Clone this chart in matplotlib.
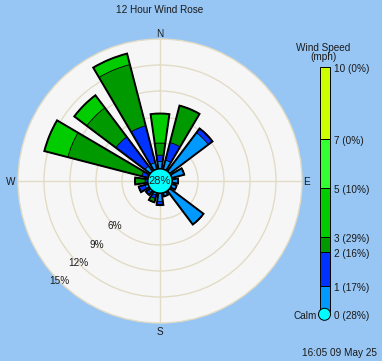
import numpy as np
import matplotlib
matplotlib.use("Agg")
import matplotlib.pyplot as plt
from matplotlib.patches import Circle, Rectangle

plt.rcParams['font.family'] = ['Liberation Sans', 'DejaVu Sans']

# ---------------- data ----------------
directions = ["N", "NNE", "NE", "ENE", "E", "ESE", "SE", "SSE",
              "S", "SSW", "SW", "WSW", "W", "WNW", "NW", "NNW"]
# percent of observations per speed bin (mph)
speed_0_1 = [0.85, 1.1, 5.6, 1.5, 0.7, 0.6, 4.9, 0.45, 1.0, 0.3, 0.3, 0.4, 0.1, 0.2, 0.8, 0.8]
speed_1_2 = [0.75, 2.1, 0.6, 0.0, 0.0, 0.0, 0.0, 0.0, 0.4, 0.4, 0.35, 0.75, 0.25, 0.6, 4.2, 4.4]
speed_2_3 = [1.4, 4.4, 0.0, 0.0, 0.0, 0.0, 0.0, 0.0, 0.0, 0.45, 0.0, 0.0, 1.15, 8.8, 4.2, 7.3]
speed_3_5 = [3.4, 0.0, 0.0, 0.0, 0.0, 0.0, 0.0, 0.0, 0.0, 0.0, 0.0, 0.0, 0.0, 2.8, 1.8, 1.3]
bins = [speed_0_1, speed_1_2, speed_2_3, speed_3_5]
bin_colors = ["#0099ff", "#0033ff", "#009900", "#00cc00"]

calm_pct = 28
ring_ticks = [3, 6, 9, 12, 15]
ring_labels = ["6%", "9%", "12%", "15%"]
ring_label_values = [6, 9, 12, 15]

legend_speeds = ["10", "7", "5", "3", "2", "1", "0"]
legend_pcts = ["0%", "0%", "10%", "29%", "16%", "17%", "28%"]
legend_colors = ["#ccff00", "#33ff33", "#00cc00", "#009900", "#0033ff", "#0099ff"]

title = "12 Hour Wind Rose"
timestamp = "16:05 09 May 25"

# ---------------- layout ----------------
W, H = 382, 361
BG = "#97c6f4"
TXT = "#1a1a1a"
GRID = "#e2dcc6"
FS = 7.2
cx, cy, R = 160, 181, 142
calm_px = 12
offset = calm_px / ((R - calm_px) / 15.0)   # radial data offset for calm circle

fig = plt.figure(figsize=(W / 100, H / 100), dpi=100)
fig.patch.set_facecolor(BG)

ax = fig.add_axes([(cx - R) / W, (H - cy - R) / H, 2 * R / W, 2 * R / H],
                  projection='polar')
ax.set_facecolor("#f6f6f6")
ax.set_theta_zero_location('N')
ax.set_theta_direction(-1)
ax.set_rlim(-offset, 15)
ax.set_rticks(ring_ticks[:-1])
ax.set_yticklabels([])
ax.set_thetagrids([0, 90, 180, 270], labels=[])
ax.grid(True, color=GRID, lw=1.0)
ax.spines['polar'].set_color(GRID)
ax.spines['polar'].set_linewidth(1.0)
ax.tick_params(length=0, pad=0)

theta = np.deg2rad(np.arange(len(directions)) * 22.5)
width = np.deg2rad(16)
bottom = np.zeros(len(directions))
for vals, col in zip(bins, bin_colors):
    vals = np.array(vals)
    ax.bar(theta, vals, width=width, bottom=bottom, color=col,
           edgecolor="black", linewidth=0.5, zorder=3)
    bottom += vals
ax.bar(theta, bottom, width=width, bottom=0, fill=False,
       edgecolor="black", linewidth=1.4, zorder=4)

# ring labels along SW
for lab, v in zip(ring_labels, ring_label_values):
    ax.text(np.deg2rad(225), v, lab, ha='center', va='center',
            fontsize=FS, color=TXT, zorder=5)

# calm circle
ax.add_patch(Circle((0.5, 0.5), calm_px / (2 * R), transform=ax.transAxes,
                    facecolor="#00ffff", edgecolor="black", lw=0.8, zorder=6))
ax.text(0.5, 0.5, f"{calm_pct}%", transform=ax.transAxes, ha='center',
        va='center', fontsize=8, color=TXT, zorder=7)

# overlay in pixel coordinates for labels & legend
ov = fig.add_axes([0, 0, 1, 1], facecolor='none')
ov.set_xlim(0, W)
ov.set_ylim(H, 0)
ov.axis('off')

ov.text(cx, 10, title, ha='center', va='center', fontsize=FS, color=TXT)
ov.text(160, 34, "N", ha='center', va='center', fontsize=FS, color=TXT)
ov.text(306, 182, "E", ha='center', va='center', fontsize=FS, color=TXT)
ov.text(11, 182, "W", ha='center', va='center', fontsize=FS, color=TXT)
ov.text(160, 332, "S", ha='center', va='center', fontsize=FS, color=TXT)

# legend bar
lx0, lx1 = 319.5, 329.5
ly = [66.7, 139.3, 188.3, 237.3, 252.3, 285.7, 314.3]
for i, col in enumerate(legend_colors):
    ov.add_patch(Rectangle((lx0, ly[i]), lx1 - lx0, ly[i + 1] - ly[i],
                           facecolor=col, edgecolor='black', lw=0.7, zorder=3))
ov.add_patch(Circle(((lx0 + lx1) / 2, ly[-1]), 6, facecolor="#00ffff",
                    edgecolor='black', lw=0.7, zorder=4))
for y, s, p in zip(ly, legend_speeds, legend_pcts):
    ov.text(334, y + 2, f"{s} ({p})", ha='left', va='center', fontsize=FS, color=TXT)
ov.text(317, ly[-1] + 1.5, "Calm", ha='right', va='center', fontsize=FS, color=TXT)
ov.text(323.5, 48, "Wind Speed", ha='center', va='center', fontsize=FS, color=TXT)
ov.text(323.5, 56.5, "(mph)", ha='center', va='center', fontsize=FS, color=TXT)

ov.text(377, 352.5, timestamp, ha='right', va='center', fontsize=FS, color=TXT)

fig.savefig("out.png", dpi=100, facecolor=BG)
